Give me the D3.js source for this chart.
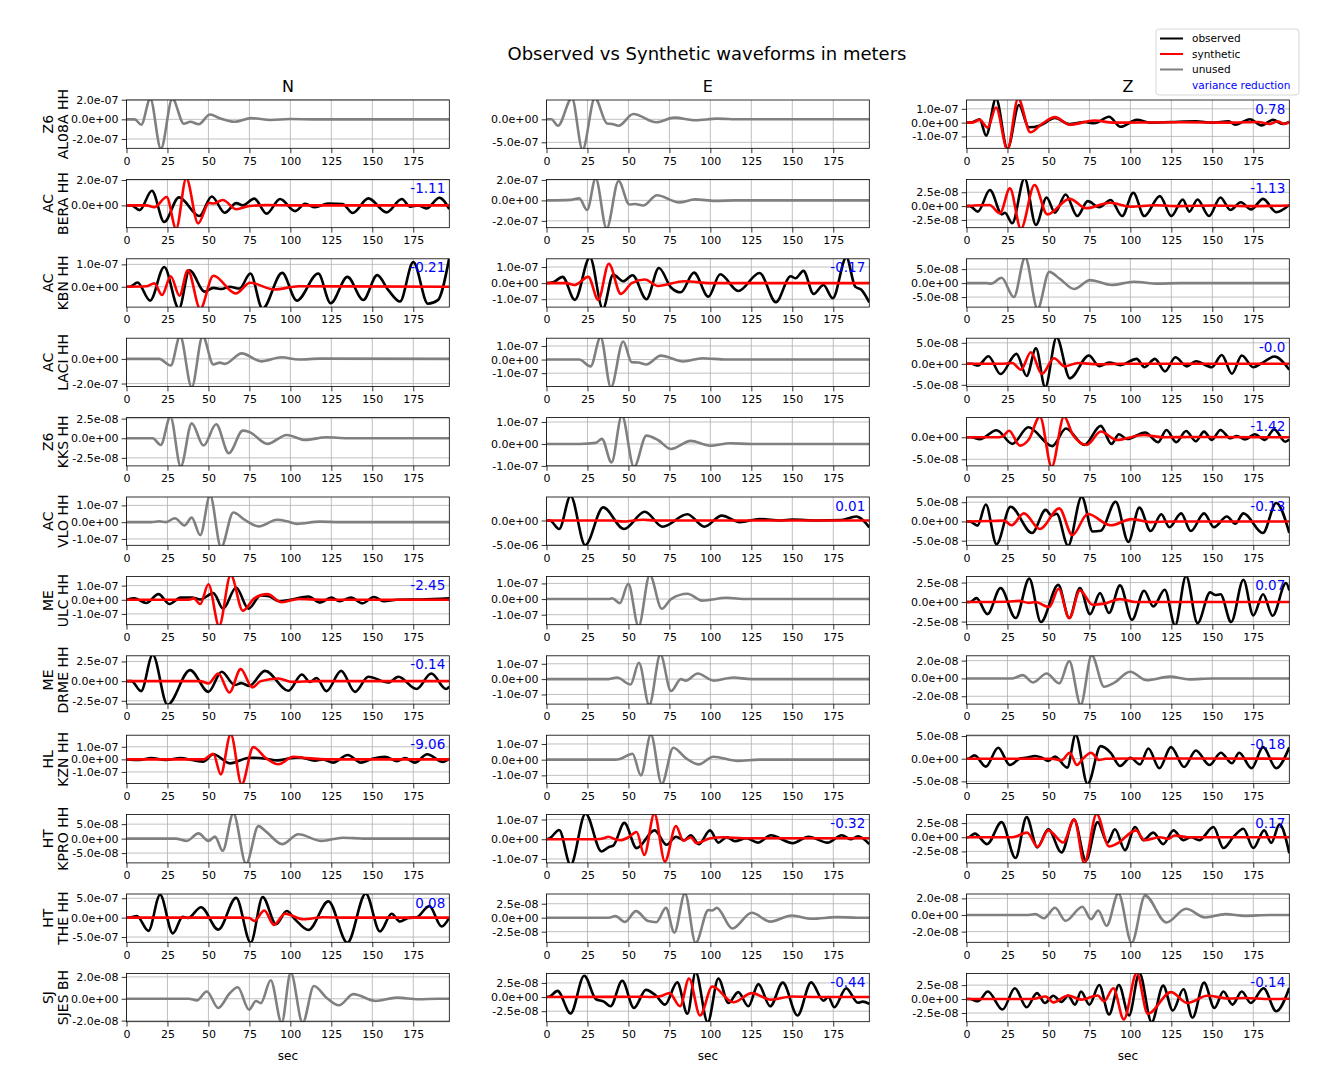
<!DOCTYPE html>
<html>
<head>
<meta charset="utf-8">
<script src="https://cdn.jsdelivr.net/npm/d3@7"></script>
<style>
  body { margin: 0; background: #fff; }
  text { font-family: "DejaVu Sans", sans-serif; }
</style>
</head>
<body>
<svg id="fig" width="1329" height="1091"></svg>
<script>
// ---- data ----
const components = ["N", "E", "Z"];
const networks = ["Z6", "AC", "AC", "AC", "Z6", "AC", "ME", "ME", "HL", "HT", "HT", "SJ"];
const stations = ["AL08A HH", "BERA HH", "KBN HH", "LACI HH", "KKS HH", "VLO HH",
                  "ULC HH", "DRME HH", "KZN HH", "KPRO HH", "THE HH", "SJES BH"];
const xTicks = [0, 25, 50, 75, 100, 125, 150, 175];
const timeSpan = [0, 197];

// exponent of the y unit for each panel (row x N/E/Z)
const yExp = [
  [-7, -7, -7], [-7, -7, -8], [-7, -7, -8], [-7, -7, -8],
  [-8, -7, -8], [-7, -6, -8], [-7, -7, -8], [-7, -7, -8],
  [-7, -7, -8], [-8, -7, -8], [-7, -8, -8], [-8, -8, -8]
];
// y limits in those units
const yLims = [
  [[-2.95, 1.97], [-6.3, 4.2], [-1.86, 1.64]],
  [[-1.76, 2.05], [-2.67, 2.05], [-3.9, 4.82]],
  [[-0.91, 1.25], [-1.49, 1.51], [-8.6, 8.7]],
  [[-2.24, 1.68], [-1.98, 1.57], [-5.4, 6.1]],
  [[-3.52, 2.63], [-1.0, 1.2], [-6.5, 4.47]],
  [[-1.38, 1.5], [-5.07, 4.8], [-6.2, 6.35]],
  [[-1.76, 1.65], [-1.64, 1.45], [-2.9, 3.29]],
  [[-2.92, 3.22], [-1.63, 1.52], [-2.88, 2.54]],
  [[-1.92, 1.92], [-1.52, 1.56], [-5.47, 5.18]],
  [[-8.4, 8.3], [-1.2, 1.25], [-4.53, 4.0]],
  [[-6.36, 6.1], [-4.4, 4.24], [-3.29, 2.53]],
  [[-2.1, 2.32], [-4.36, 4.19], [-4.06, 4.6]]
];
const yTicks = [
  [[-2, 0, 2], [-5, 0], [-1, 0, 1]],
  [[0, 2], [-2, 0, 2], [-2.5, 0, 2.5]],
  [[0, 1], [-1, 0, 1], [-5, 0, 5]],
  [[-2, 0], [-1, 0, 1], [-5, 0, 5]],
  [[-2.5, 0, 2.5], [-1, 0, 1], [-5, 0]],
  [[-1, 0, 1], [-5, 0], [-5, 0, 5]],
  [[-1, 0, 1], [-1, 0, 1], [-2.5, 0, 2.5]],
  [[-2.5, 0, 2.5], [-1, 0, 1], [-2, 0, 2]],
  [[-1, 0, 1], [-1, 0, 1], [-5, 0, 5]],
  [[-5, 0, 5], [-1, 0, 1], [-2.5, 0, 2.5]],
  [[-5, 0, 5], [-2.5, 0, 2.5], [-2, 0, 2]],
  [[-2, 0, 2], [-2.5, 0, 2.5], [-2.5, 0, 2.5]]
];
const varianceReduction = [
  [null, null, "0.78"], ["-1.11", null, "-1.13"], ["-0.21", "-0.17", null],
  [null, null, "-0.0"], [null, null, "-1.42"], [null, "0.01", "-0.13"],
  ["-2.45", null, "0.07"], ["-0.14", null, null], ["-9.06", null, "-0.18"],
  [null, "-0.32", "0.17"], ["0.08", null, null], [null, "-0.44", "-0.14"]
];

// waveform extrema [sec, value in panel units]
const AL08A = {
  N: { unused: [[0,0],[5,0],[9,-0.55],[14.5,2.1],[21,-3.0],[28,2.1],[35,-0.45],[39,-0.25],[44,-0.5],[51,0.5],[57,0.1],[66,-0.25],[76,0.12],[88,-0.06],[100,0.03],[115,0],[197,0]] },
  E: { unused: [[0,0],[3,0],[7,-1.4],[15.5,4.6],[22,-6.6],[29.5,4.6],[37,-0.9],[40,-1.0],[44,-1.4],[53,1.15],[67,-0.65],[78,0.36],[91,-0.2],[104,0.15],[118,0],[197,0]] },
  Z: {
    obs: [[0,0],[4,0.05],[8,0.24],[12,-0.94],[18,1.75],[25,-1.9],[32,1.28],[38,-0.34],[45,-0.2],[54,0.34],[63,-0.12],[72,0.05],[78,-0.05],[87,0.43],[94,-0.3],[104,0.2],[112,0],[125,0.05],[140,0.1],[150,0],[160,0.1],[164,-0.15],[173,0.25],[180,-0.2],[187,0.2],[193,-0.1],[197,0.05]],
    syn: [[0,0],[4,0.02],[8,0.2],[13,-0.36],[18,1.1],[25,-1.95],[31.5,1.75],[39,-0.7],[46,-0.1],[54,0.4],[63,-0.15],[78,0.15],[90,0],[130,0.03],[160,0],[178,0.05],[185,-0.1],[190,0.1],[194,-0.1],[197,0.05]]
  }
};
const BERA = {
  N: {
    obs: [[0,0],[3,0],[8,-0.37],[15.5,1.16],[23,-1.3],[32,0.63],[44.5,-0.84],[52,0.7],[60,-0.58],[67,0.18],[71,0.0],[78,0.53],[85.5,-0.65],[93.7,0.5],[103,-0.45],[109,0.12],[115,-0.15],[123,0.15],[132,0.1],[138,-0.6],[147.6,0.55],[158.7,-0.55],[168,0.5],[173,-0.1],[178,0],[183,-0.25],[191,0.6],[197,-0.3]],
    syn: [[0,0],[12,0],[17,-0.15],[24.5,0.66],[30.3,-1.85],[36.5,2.15],[43.7,-1.42],[50.4,0.2],[53,0.15],[58.7,0.42],[67,-0.3],[75,-0.05],[85,0.02],[100,0],[197,0]]
  },
  E: { unused: [[0,0],[15,0.05],[20,0.2],[24.8,-0.94],[30,2.15],[36.7,-2.75],[44,1.9],[50.5,-0.4],[54,-0.35],[59,-0.5],[67.4,0.5],[81,-0.2],[90.6,0.1],[103,-0.05],[115,0],[197,0]] },
  Z: {
    obs: [[0,0],[2,0],[6.9,-1.0],[14.3,2.9],[21.6,-1.5],[23.5,-1.2],[27.9,-3.1],[35.4,5.0],[42.4,-3.4],[48.9,1.56],[54,-1.2],[60.5,2.1],[67.6,-1.8],[74,0.9],[81,-0.2],[88,1.1],[95,-1.8],[101.8,2.4],[108.5,-1.8],[118,1.8],[125,-1.8],[132,1.2],[136,-1.0],[141,1.2],[148,-1.8],[155,1.56],[161,-0.7],[167.4,0.7],[173.7,-0.6],[181,1.3],[189,-1.1],[197,0.2]],
    syn: [[0,0],[8,0.15],[14,0.2],[20.4,-1.3],[26.5,3.2],[33.2,-4.1],[41.5,3.8],[49.3,-1.5],[63,1.3],[73,-0.4],[87.6,0.6],[100,-0.1],[115,0.15],[130,0],[150,0.1],[170,0],[197,0.1]]
  }
};
const KBN = {
  N: {
    obs: [[0,0],[2,0],[6.7,0.19],[14.4,-0.62],[23,0.88],[32,-0.98],[38.4,0.74],[47.8,-0.22],[53,-0.05],[58,-0.1],[63,0],[69,-0.08],[75.6,0.59],[83,-0.98],[95,0.62],[103.9,-0.62],[117,0.59],[124.6,-0.74],[134.8,0.44],[144.5,-0.59],[153,0.52],[159.8,-0.15],[166.9,-0.66],[175,1.1],[184,-0.76],[190,-0.6],[197,1.3]],
    syn: [[0,0],[12,0.02],[17,0.15],[21.7,-0.37],[27,0.47],[32.3,-0.4],[37.4,0.74],[45,-0.98],[53,0.49],[66.7,-0.3],[75.4,0.18],[90.2,-0.12],[105,0.02],[197,0]]
  },
  E: {
    obs: [[0,0],[4,0.05],[9.8,0.39],[17.3,-1.04],[26.5,1.6],[34.4,-1.6],[40.7,0.53],[46.8,0.12],[52.5,0.49],[61,-1.0],[68.6,0.94],[76,-0.27],[81.9,-0.57],[90,0.65],[98.8,-0.84],[106,0.55],[117,-0.49],[130,0.63],[140,-1.18],[149,0.43],[152,0.3],[156.8,0.76],[163,-0.67],[169,-0.12],[174.7,-0.94],[183,1.6],[188.4,-0.22],[192,-0.4],[197,-1.2]],
    syn: [[0,0],[12,0],[17,-0.12],[25.5,0.39],[31.6,-1.04],[38,1.2],[45.4,-0.67],[52,0.0],[60,0.22],[68,-0.18],[84,0.12],[100,0],[197,0]]
  },
  Z: { unused: [[0,0],[12,0],[15,-0.2],[21.4,1.9],[28.9,-5],[35.8,9.2],[43.4,-9.2],[50.5,4.0],[57,1.5],[65.8,-2.1],[75.4,1.05],[88.6,-0.7],[102,0.5],[117,-0.2],[130,0],[197,0]] }
};
const LACI = {
  N: { unused: [[0,0],[20,0],[27,-0.53],[32.7,1.85],[39.8,-2.3],[46.5,1.85],[53,-0.45],[57,-0.3],[60,-0.4],[70.3,0.45],[82.3,-0.2],[94.7,0.13],[105,-0.05],[118,0.02],[197,0]] },
  E: { unused: [[0,0],[20,0],[26.9,-0.5],[33,1.65],[39.3,-2.05],[46.8,1.33],[52,-0.2],[56,-0.22],[61,-0.36],[69.7,0.29],[83.5,-0.14],[95,0.1],[110,0],[197,0]] },
  Z: {
    obs: [[0,0],[3,0],[7.1,-0.4],[13.4,1.8],[20.8,-2.44],[30.5,2.36],[36.7,-2.9],[42.4,3.7],[48,-5.6],[55,6.3],[63.1,-3.46],[74.7,1.97],[81,-0.55],[87,0.3],[94,-0.3],[103.9,1.18],[108.6,-0.8],[115,1.18],[121.2,-1.8],[127.5,1.57],[134.4,-0.6],[140,0.6],[149.7,-0.8],[155.8,2.1],[162,-2.36],[168,1.97],[175,-0.8],[180,0.1],[187.8,1.73],[197,-1.4]],
    syn: [[0,0],[20,0],[25,0.1],[28,0.2],[33.2,-1.4],[39.3,2.76],[46,-2.44],[53.4,1.34],[60,-0.6],[68,0.2],[80,-0.1],[95,0],[197,0]]
  }
};
const KKS = {
  N: { unused: [[0,0],[16,0],[20.9,-0.85],[26.8,2.75],[33.1,-3.6],[39.8,1.9],[47,-0.93],[54.7,1.78],[62.4,-1.9],[71,0.97],[75,0.8],[86,-0.72],[97.8,0.42],[109,-0.21],[122,0.12],[135,0],[197,0]] },
  E: { unused: [[0,0],[20,0],[30,0.05],[33.8,0.23],[39.7,-0.84],[46,1.3],[53.4,-1.05],[61,0.38],[68,0.18],[76,-0.23],[88,0.14],[99.8,-0.08],[112,0.03],[125,0],[197,0]] },
  Z: {
    obs: [[0,0],[3,0],[8.1,-0.45],[18.3,1.6],[28,-1.5],[37.7,2.27],[52.3,-2.0],[60.7,2.0],[71.9,-1.75],[81.9,2.58],[88.5,-1.5],[93,0.7],[98,-0.4],[109,1.1],[117,-1.1],[122,1.67],[128,-1.1],[134,1.44],[140,-0.9],[145,1.29],[149.7,-0.6],[155,1.67],[161,-0.23],[165,0.3],[170,-0.5],[176,0.68],[182,-0.6],[187.8,1.8],[194.5,-1.0],[197,-0.5]],
    syn: [[0,0],[18,0],[22,0.2],[26,1.5],[32.6,-1.9],[38,-0.5],[44.8,4.7],[52,-6.7],[59.5,4.7],[65,0.5],[73.3,-1.75],[82,1.3],[91.6,-0.6],[108,0.53],[120,0],[140,0.05],[197,0]]
  }
};
const VLO = {
  N: { unused: [[0,0],[15,0],[20,0.05],[24,0],[29.5,0.23],[35.4,-0.19],[39.8,0.27],[45,-0.78],[51,1.6],[57.7,-1.5],[65.2,0.58],[72,0.15],[80.7,-0.25],[92,0.14],[98,0.05],[103.9,-0.1],[118,0.03],[130,0],[197,0]] },
  E: {
    obs: [[0,0],[2,0],[7.7,-1.73],[14.7,5.0],[23.6,-5.05],[34.6,2.67],[47.3,-1.73],[60,1.8],[70.9,-1.27],[86,1.27],[96.3,-1.27],[107,1.0],[118,-0.33],[130,0.3],[143,0],[150,0.2],[165,0],[180,0.1],[189,0.8],[197,-1.4]],
    syn: [[0,0],[40,0],[47,-0.2],[53,0],[59,0.15],[66,0],[197,0]]
  },
  Z: {
    obs: [[0,0],[2,0],[6.7,-1.1],[11.8,4.4],[18.3,-5.9],[26.9,3.8],[40,-3.0],[48.3,3.0],[52,1.5],[55,2.0],[62,-6.3],[70.3,6.4],[77,-2.6],[82,-2.4],[91,5.1],[98.8,-5.3],[105.5,3.6],[112.4,-2.5],[118.9,1.86],[123.8,-1.5],[131,2.1],[136.9,-2.5],[145,2.1],[151,-1.5],[158.9,1.27],[164,-0.6],[169,2.1],[180.9,-3.0],[189,4.8],[197,-3.0]],
    syn: [[0,0],[15,0.1],[23,0.2],[27.5,-1.0],[35,2.1],[44.8,-1.95],[56.6,3.4],[64.6,-3.56],[74,1.95],[88,-1.0],[100.8,0.6],[112,-0.17],[125,0],[197,0]]
  }
};
const ULC = {
  N: {
    obs: [[0,0],[5,0.1],[12,-0.23],[19.5,0.4],[26.2,-0.3],[33,0.15],[40,0.16],[45,0.02],[53,0.47],[59,-0.63],[66.9,0.87],[74.4,-0.63],[81.9,0.3],[87,0.25],[93,-0.1],[100,0],[111,0.23],[118,-0.2],[125,0.15],[130,-0.1],[137,0.15],[144,-0.25],[151,0.2],[157,-0.1],[165,0],[180,0.02],[197,0.1]],
    syn: [[0,0],[38,0],[41,0.1],[45,-0.3],[50,1.1],[56.5,-1.85],[63.6,1.75],[71,-0.78],[78,0.1],[86,0.4],[94.7,-0.17],[105,0.05],[120,0],[197,0]]
  },
  E: { unused: [[0,0],[38,0],[40,0.05],[44.8,-0.26],[49.9,0.98],[56.2,-1.75],[63,1.55],[70.3,-0.62],[76,0],[86,0.34],[95,-0.1],[110,0.08],[122,0],[197,0]] },
  Z: {
    obs: [[0,0],[2,0],[6.1,0.5],[12.8,-1.54],[20.8,1.8],[30,-2.05],[38.3,3.0],[45.4,-2.56],[56,2.2],[62.7,-2.05],[69.2,1.8],[75.4,-1.54],[81.5,1.15],[87,-1.4],[93.7,2.14],[101,-2.26],[108.4,1.45],[114,-0.56],[121,1.58],[127.3,-3.0],[134,3.35],[141,-2.7],[148.7,1.24],[152,0.9],[155,1.0],[161.5,-2.56],[169,2.86],[175,-1.7],[181,1.0],[186.8,-1.75],[195,2.44],[197,1.5]],
    syn: [[0,0],[25,0.05],[32,0.15],[38,-0.1],[42,0],[50.5,-0.64],[56.2,1.7],[62.7,-2.05],[69.2,1.5],[77,-0.34],[84,-0.2],[93.7,0.38],[103,0],[197,0]]
  }
};
const DRME = {
  N: {
    obs: [[0,0],[3,0],[8.9,-1.27],[16,3.35],[25,-3.0],[38.8,1.4],[50,-1.36],[58.1,1.19],[66,-0.5],[70,-0.25],[75,-0.6],[84.5,1.31],[98.8,-1.23],[107,0.85],[112,-0.1],[116,0.4],[122,-1.27],[131,1.31],[139.4,-1.36],[147.6,0.55],[159.8,-0.17],[165.9,0.55],[177,-1.0],[186,0.97],[195,-1.0],[197,-0.7]],
    syn: [[0,0],[45,0],[50,-0.3],[56,0.97],[62.8,-1.44],[69.7,1.53],[76.8,-0.8],[82,0],[92.7,0.34],[101,-0.1],[115,0],[197,0]]
  },
  E: { unused: [[0,0],[38,0],[43,0.1],[51.3,-0.35],[56.4,1.07],[62.7,-1.7],[69.5,1.6],[76,-0.78],[82,0],[85,-0.1],[92.3,0.37],[102,-0.1],[114,0.1],[125,0],[197,0]] },
  Z: { unused: [[0,0],[28,0],[34.2,0.37],[40.7,-0.45],[48.9,0.56],[56.6,-0.56],[62.7,1.94],[69.7,-2.95],[76.4,2.6],[84,-0.93],[90,-0.5],[99.8,0.75],[110,-0.2],[124,0.2],[136,-0.1],[150,0],[197,0]] }
};
const KZN = {
  N: {
    obs: [[0,0],[8,-0.05],[15,0.1],[24,-0.05],[33,0.1],[40,-0.05],[47,-0.18],[53,0.4],[63.2,-0.32],[75,0.13],[85,0.05],[92,-0.08],[100,0.1],[106,0.15],[115,-0.1],[120,0],[126.2,-0.26],[135,0.34],[143,-0.26],[150,0.05],[157.7,0.21],[165,-0.15],[170,0.1],[176,-0.26],[183.5,0.4],[193,-0.2],[197,0.05]],
    syn: [[0,0],[47,0],[53,0.45],[57.5,-1.2],[63.6,2.0],[70.3,-2.0],[77.4,0.97],[85,0.1],[92.7,-0.39],[101.8,0.21],[110,0.1],[125,0],[197,0]]
  },
  E: { unused: [[0,0],[42,0],[45,0.05],[52.5,0.38],[57.6,-1.0],[63.7,1.6],[70.3,-1.55],[77.4,0.76],[85,0.1],[93,-0.3],[101.8,0.19],[116.7,-0.08],[130,0],[197,0]] },
  Z: {
    obs: [[0,0],[1,0],[4.9,0.73],[11.8,-1.75],[19.3,2.4],[26.5,-1.39],[33,0.1],[36,0.2],[42,0.6],[46,0.2],[49.9,-0.5],[54,0.5],[61.5,-1.97],[66.6,5.3],[73.9,-5.6],[81.9,2.77],[88,1.3],[93.7,-1.6],[100,0.2],[105.9,-1.24],[111,2.26],[117.7,-2.1],[124.8,2.55],[132.8,-1.82],[140,1.82],[148.3,-1.39],[155.2,1.31],[162,-1.0],[166.4,1.31],[174,-2.1],[181,2.55],[189,-2.1],[197,2.5]],
    syn: [[0,0],[52,0],[58,-0.36],[63,1.31],[67.4,-1.39],[71,0],[76,1.31],[81,-0.3],[85,0],[100,0.05],[197,0]]
  }
};
const KPRO = {
  N: { unused: [[0,0],[30,0],[36.8,-0.8],[43.9,1.8],[50,-0.8],[54,0.68],[58.7,-4.2],[65.2,8.7],[73,-8.7],[80.5,4.3],[85,2.5],[95,-1.9],[104.9,1.5],[119,-0.8],[132,0.3],[145,0],[197,0]] },
  E: {
    obs: [[0,0],[2,0.05],[7.7,0.47],[14.7,-1.3],[23.8,1.3],[33.6,-0.62],[38,-0.4],[41,-0.3],[47.5,0.83],[55,-0.45],[66,0.45],[73.3,-0.28],[79,0.13],[84,-0.05],[88,0.2],[93,-0.25],[99.8,0.45],[104.9,-0.17],[110,0.1],[115,-0.1],[122,0.05],[129,-0.17],[136.9,0.2],[150.3,-0.2],[159.9,0.13],[171.5,-0.17],[180.2,0.2],[186,0],[190,0.15],[197,-0.25]],
    syn: [[0,0],[30,0],[35,0.05],[37.7,0.13],[42,0],[45,-0.05],[50,0.1],[55,0.37],[59.7,-0.8],[65.8,1.3],[72.3,-1.13],[79,0.67],[83.5,-0.08],[88,0.1],[91.6,-0.2],[100,0.05],[108,0.1],[120,0.05],[197,0.05]]
  },
  Z: {
    obs: [[0,0],[1,0],[5.1,0.64],[12.6,-1.22],[21.4,2.67],[29.9,-3.66],[36.7,3.55],[43.2,-1.8],[49.9,1.4],[58,-2.67],[65.6,3.14],[72.9,-4.1],[80,2.67],[86,-0.93],[90.6,1.4],[96.7,-2.27],[102.9,1.8],[107.9,-0.52],[114,0.81],[120,-1.22],[126.3,1.22],[132.4,-0.52],[137,0],[142,-0.52],[150.7,1.8],[156.8,-1.9],[163,0.1],[169,1.5],[175,-1.9],[181.7,1.22],[186,-1.0],[191,2.27],[197,-2.8]],
    syn: [[0,0],[28,0],[37,0.81],[43.4,-1.69],[49.9,1.22],[59,-0.93],[65.8,3.14],[71.9,-4.6],[79.4,4.1],[87,-1.63],[92,-1.1],[103.5,1.22],[108.6,-0.52],[118,0],[123,-0.3],[127,0.3],[135,0],[197,0]]
  }
};
const THE = {
  N: {
    obs: [[0,0],[2,0],[6.3,0.42],[13.4,-3.4],[20.5,5.9],[28.3,-4.07],[34.3,0.25],[37.5,-0.1],[45.5,2.7],[56,-3.1],[66.9,5.1],[75.8,-6.45],[83.1,5.3],[91.3,-1.7],[97.8,1.7],[103,-0.5],[111,-3.2],[123.2,4.2],[134.8,-6.45],[146,6.2],[154.7,-3.56],[161.8,1.0],[166.9,-1.0],[172,-0.1],[177,0.1],[184.8,2.97],[192.3,-2.3],[197,0]],
    syn: [[0,0],[70,0],[75,-0.1],[78,-0.85],[84.1,1.86],[90,-1.86],[96.7,1.0],[108,-0.42],[120,0.1],[135,0],[197,0]]
  },
  E: { unused: [[0,0],[38,0],[42,0.3],[47.9,-0.76],[54.6,1.18],[62,-0.6],[67,-0.8],[72.9,1.76],[78,-2.65],[84.5,4.35],[91,-4.5],[98.8,1.35],[101,1.3],[103.9,1.76],[113.4,-1.94],[125.3,0.88],[136.5,-0.7],[149.7,0.4],[162,-0.2],[177,0.1],[190,0],[197,0]] },
  Z: { unused: [[0,0],[38,0],[42,0.1],[47.3,-0.4],[54,0.87],[60.5,-0.7],[70.7,1.0],[76,-0.5],[80.4,0.55],[85.5,-1.3],[92.7,2.6],[100.8,-3.35],[109,2.34],[122,-0.9],[134,0.75],[145.6,-0.3],[158,0.1],[170,-0.1],[185,0],[197,0]] }
};
const SJES = {
  N: { unused: [[0,0],[38,0],[42.9,-0.15],[49,0.66],[56,-0.84],[63,0.5],[67.9,1.05],[74.8,-1.0],[79,-0.2],[82,-0.4],[88,1.7],[94.7,-2.2],[100.2,2.4],[107.5,-2.2],[114.4,1.17],[122,0.1],[129.7,-0.6],[138.4,0.42],[152,-0.2],[165,0.1],[178,-0.05],[190,0],[197,0]] },
  E: {
    obs: [[0,0],[2,0.1],[6.7,1.1],[14.7,-2.9],[23,3.78],[30.1,-0.35],[35,-0.8],[39.1,-1.63],[46.2,2.9],[53.4,-1.92],[60.7,1.28],[67,0.2],[72.3,-1.34],[79.8,2.6],[86,-2.96],[91,4.4],[98.4,-4.45],[104.9,3.3],[111,-1.05],[117,0.87],[123.2,-1.63],[129.3,2.3],[136.5,-1.63],[144.2,2.56],[153.2,-3.26],[161.5,2.6],[169,-0.64],[172,0],[175.6,-1.8],[182.9,1.57],[190,-1.0],[193,-0.8],[197,-1.2]],
    syn: [[0,0],[60,0.05],[65,0],[70,0.2],[75,0.7],[81.5,-1.63],[87,3.3],[93.7,-3.26],[101.2,1.86],[114,-0.93],[125.3,0.7],[136.9,-0.46],[150,0.1],[165,0],[197,0]]
  },
  Z: {
    obs: [[0,0],[2,0],[7.1,-0.4],[13,1.35],[22,-1.88],[29.5,1.94],[36.7,-1.47],[43,1.06],[47.9,-0.7],[53,0.6],[58,-0.5],[62,0.6],[66.2,-1.0],[69.9,1.35],[75,-1.0],[81,2.53],[87,-2.76],[93,2.53],[99.2,-2.94],[105.5,4.7],[113,-4.15],[120,2.41],[125.9,-2.06],[132.4,1.76],[137.9,-3.35],[145,2.94],[151.3,-1.59],[156.8,1.35],[162.3,-1.0],[168,1.35],[173.5,-0.7],[181.3,1.94],[189,-2.18],[197,2.0]],
    syn: [[0,0],[40,0],[48.3,0.47],[53,-0.6],[62,0.65],[70,-0.1],[80,0.65],[84,-0.4],[89.6,1.94],[96,-3.65],[103.9,4.7],[110.6,-2.65],[124.8,1.24],[134.8,-0.7],[147,0.59],[160,0.1],[170,0.2],[185,0],[197,0.05]]
  }
};
const stationTraces = [AL08A, BERA, KBN, LACI, KKS, VLO, ULC, DRME, KZN, KPRO, THE, SJES];

// ---- layout ----
const colX = [126.5, 546.5, 966.5];
const axW = 322.8, axH = 48.3;
const rowTop = r => 100 + r * 79.4;
const tickFont = 11;

const svg = d3.select("#fig");

const x = d3.scaleLinear().domain(timeSpan).range([0, axW]);
const line = y => d3.line().x(d => x(d[0])).y(d => y(d[1])).curve(d3.curveMonotoneX);

const fmtTick = exp => v => {
  if (v === 0) return "0.0e+00";
  const e = Math.abs(exp);
  return `${v.toFixed(1)}e${exp < 0 ? "-" : "+"}${e < 10 ? "0" + e : e}`;
};

svg.append("text")
  .attr("x", 707).attr("y", 59.5)
  .attr("text-anchor", "middle")
  .style("font-size", "18px")
  .text("Observed vs Synthetic waveforms in meters");

stationTraces.forEach((st, r) => {
  components.forEach((comp, k) => {
    const g = svg.append("g").attr("transform", `translate(${colX[k]},${rowTop(r)})`);
    const y = d3.scaleLinear().domain(yLims[r][k]).range([axH, 0]);
    const clipId = `clip-${r}-${k}`;

    g.append("clipPath").attr("id", clipId)
      .append("rect").attr("width", axW).attr("height", axH);

    // grid
    g.append("g").selectAll("line").data(xTicks).join("line")
      .attr("x1", d => x(d)).attr("x2", d => x(d))
      .attr("y1", 0).attr("y2", axH)
      .attr("stroke", "#b0b0b0").attr("stroke-width", 0.8);
    g.append("g").selectAll("line").data(yTicks[r][k]).join("line")
      .attr("x1", 0).attr("x2", axW)
      .attr("y1", d => y(d)).attr("y2", d => y(d))
      .attr("stroke", "#b0b0b0").attr("stroke-width", 0.8);

    // waveforms
    const tr = st[comp];
    const plot = g.append("g").attr("clip-path", `url(#${clipId})`);
    const series = tr.unused
      ? [[tr.unused, "#808080"]]
      : [[tr.obs, "#000000"], [tr.syn, "#ff0000"]];
    series.forEach(([pts, col]) => {
      plot.append("path")
        .datum(pts)
        .attr("fill", "none")
        .attr("stroke", col)
        .attr("stroke-width", 2.6)
        .attr("stroke-linejoin", "round")
        .attr("d", line(y));
    });

    // axes
    const xa = g.append("g").attr("transform", `translate(0,${axH})`)
      .call(d3.axisBottom(x).tickValues(xTicks).tickSize(4.9).tickPadding(3.6).tickFormat(d3.format("d")));
    const ya = g.append("g")
      .call(d3.axisLeft(y).tickValues(yTicks[r][k]).tickSize(4.9).tickPadding(3.2).tickFormat(fmtTick(yExp[r][k])));
    [xa, ya].forEach(a => {
      a.select(".domain").remove();
      a.selectAll("line").attr("stroke", "#000").attr("stroke-width", 0.8);
      a.selectAll("text").attr("fill", "#000").style("font-size", tickFont + "px")
        .style("font-family", "DejaVu Sans, sans-serif");
    });

    g.append("rect").attr("width", axW).attr("height", axH)
      .attr("fill", "none").attr("stroke", "#000").attr("stroke-width", 0.8);

    const vr = varianceReduction[r][k];
    if (vr !== null) {
      g.append("text")
        .attr("x", axW - 4).attr("y", 13.5)
        .attr("text-anchor", "end")
        .attr("fill", "#0000ff")
        .style("font-size", "13.5px")
        .text(vr);
    }

    if (r === 0) {
      g.append("text")
        .attr("x", axW / 2).attr("y", -8.5)
        .attr("text-anchor", "middle")
        .style("font-size", "16px")
        .text(comp);
    }
    if (r === stationTraces.length - 1) {
      g.append("text")
        .attr("x", axW / 2).attr("y", axH + 38)
        .attr("text-anchor", "middle")
        .style("font-size", "12px")
        .text("sec");
    }
    if (k === 0) {
      const lab = g.append("text")
        .attr("transform", `translate(-71,${axH / 2}) rotate(-90)`)
        .attr("text-anchor", "middle")
        .style("font-size", "14px");
      lab.append("tspan").attr("x", 0).attr("dy", "-0.2em").text(networks[r]);
      lab.append("tspan").attr("x", 0).attr("dy", "1.12em").text(stations[r]);
    }
  });
});

// legend
const legendItems = [
  { label: "observed", color: "#000000", line: true },
  { label: "synthetic", color: "#ff0000", line: true },
  { label: "unused", color: "#808080", line: true },
  { label: "variance reduction", color: "#0000ff", line: false }
];
const lg = svg.append("g").attr("transform", "translate(1156,29)");
lg.append("rect").attr("width", 143).attr("height", 66).attr("rx", 3)
  .attr("fill", "#fff").attr("fill-opacity", 0.8)
  .attr("stroke", "#cccccc").attr("stroke-width", 0.8);
legendItems.forEach((d, i) => {
  const yy = 9.5 + i * 15.5;
  if (d.line) {
    lg.append("line").attr("x1", 4).attr("x2", 27).attr("y1", yy).attr("y2", yy)
      .attr("stroke", d.color).attr("stroke-width", 2);
  }
  lg.append("text").attr("x", 36).attr("y", yy).attr("dy", "0.35em")
    .attr("fill", d.line ? "#000" : d.color)
    .style("font-size", "10.5px")
    .text(d.label);
});
</script>
</body>
</html>
